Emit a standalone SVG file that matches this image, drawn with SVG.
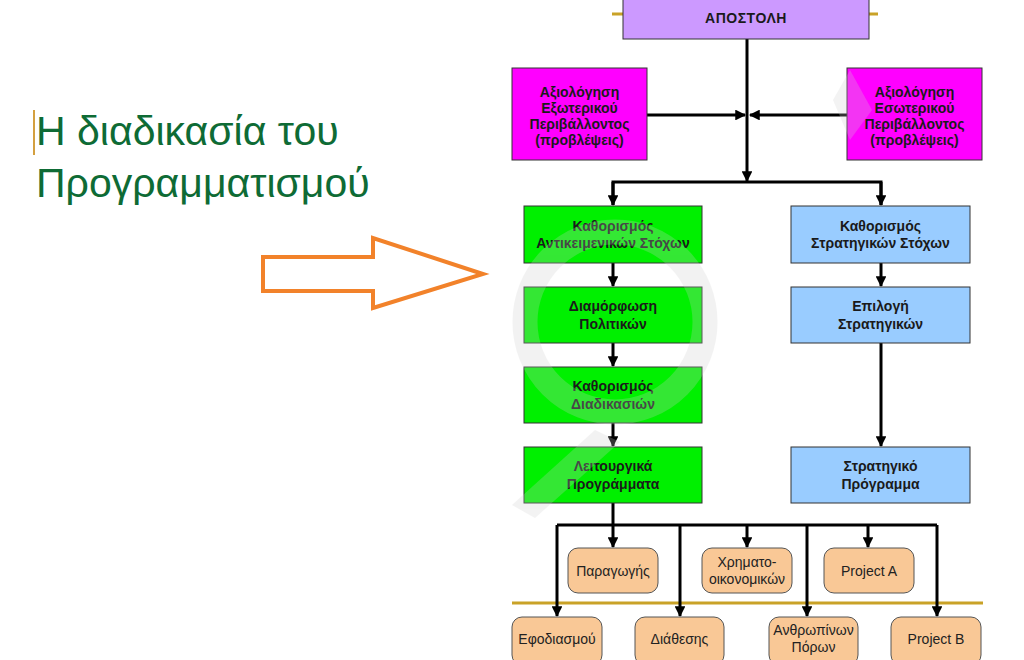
<svg xmlns="http://www.w3.org/2000/svg" width="1024" height="660" viewBox="0 0 1024 660">
<defs>
<marker id="ah" viewBox="0 0 10 10" refX="9" refY="5" markerWidth="4.2" markerHeight="3.6" orient="auto" markerUnits="strokeWidth">
<path d="M0,0 L10,5 L0,10 z" fill="#000"/>
</marker>
<style>
.box{stroke:#333;stroke-width:1}
.purple{fill:#CC99FF}
.mag{fill:#FF00FF}
.green{fill:#00F000}
.blue{fill:#99CCFF}
.peach{fill:#F9C896;stroke:#555;stroke-width:1}
.bt{font-family:"Liberation Sans",Arial,sans-serif;font-weight:bold;font-size:14px;fill:#1a1a1a;text-anchor:middle}
.rt{font-family:"Liberation Sans",Arial,sans-serif;font-size:14px;fill:#222;text-anchor:middle}
.conn{stroke:#000;stroke-width:3;fill:none}
.arr{stroke:#000;stroke-width:3;fill:none;marker-end:url(#ah)}
.gold{stroke:#C9A227;stroke-width:3}
.title{font-family:"Liberation Sans",Arial,sans-serif;font-size:41px;fill:#0E6B35}
</style>
</defs>
<rect width="1024" height="660" fill="#fff"/>

<g id="title">
<line x1="34" y1="110" x2="34" y2="155" stroke="#D4A040" stroke-width="2"/>
<text class="title" x="36" y="145">Η διαδικασία του</text>
<text class="title" x="36" y="197">Προγραμματισμού</text>
</g>

<g id="big-arrow">
<polygon points="263,257 373,257 373,238 483,274 373,308 373,291 263,291" fill="#fff" stroke="#F2822A" stroke-width="4" stroke-linejoin="miter"/>
</g>

<g id="gold-lines">
<line class="gold" x1="612" y1="14" x2="878" y2="14" stroke-width="2"/>
<line class="gold" x1="512" y1="603" x2="983" y2="603"/>
</g>

<g id="connectors">
<line class="arr" x1="747" y1="39" x2="747" y2="181"/>
<line class="arr" x1="647" y1="115" x2="745" y2="115"/>
<line class="arr" x1="847" y1="115" x2="750" y2="115"/>
<polyline class="conn" points="613,205 613,182 881,182 881,205"/>
<line class="arr" x1="613" y1="182" x2="613" y2="205"/>
<line class="arr" x1="881" y1="182" x2="881" y2="205"/>
<line class="arr" x1="613" y1="263" x2="613" y2="286"/>
<line class="arr" x1="613" y1="343" x2="613" y2="366"/>
<line class="arr" x1="613" y1="423" x2="613" y2="446"/>
<line class="arr" x1="881" y1="263" x2="881" y2="286"/>
<line class="arr" x1="881" y1="343" x2="881" y2="446"/>
<line class="conn" x1="613" y1="503" x2="613" y2="525"/>
<line class="conn" x1="557" y1="525" x2="937" y2="525"/>
<line class="arr" x1="613" y1="525" x2="613" y2="547"/>
<line class="arr" x1="747" y1="525" x2="747" y2="547"/>
<line class="arr" x1="868" y1="525" x2="868" y2="547"/>
<line class="arr" x1="557" y1="525" x2="557" y2="616"/>
<line class="arr" x1="680" y1="525" x2="680" y2="616"/>
<line class="arr" x1="807" y1="525" x2="807" y2="616"/>
<line class="arr" x1="937" y1="525" x2="937" y2="616"/>
</g>

<g id="apostoli">
<rect class="box purple" x="623" y="-1" width="246" height="40"/>
<text class="bt" x="746" y="23" letter-spacing="0.5">ΑΠΟΣΤΟΛΗ</text>
</g>

<g id="eksoteriko">
<rect class="box mag" x="512" y="68" width="135" height="92"/>
<text class="bt" x="579.5" y="97">Αξιολόγηση</text>
<text class="bt" x="579.5" y="113">Εξωτερικού</text>
<text class="bt" x="579.5" y="129">Περιβάλλοντος</text>
<text class="bt" x="579.5" y="145">(προβλέψεις)</text>
</g>

<g id="esoteriko">
<rect class="box mag" x="847" y="68" width="135" height="92"/>
<text class="bt" x="914.5" y="97">Αξιολόγηση</text>
<text class="bt" x="914.5" y="113">Εσωτερικού</text>
<text class="bt" x="914.5" y="129">Περιβάλλοντος</text>
<text class="bt" x="914.5" y="145">(προβλέψεις)</text>
</g>

<g id="antikeimenikoi">
<rect class="box green" x="524" y="206" width="178" height="57"/>
<text class="bt" x="613" y="231">Καθορισμός</text>
<text class="bt" x="613" y="248">Αντικειμενικών Στόχων</text>
</g>

<g id="politikes">
<rect class="box green" x="524" y="287" width="178" height="56"/>
<text class="bt" x="613" y="311">Διαμόρφωση</text>
<text class="bt" x="613" y="329">Πολιτικών</text>
</g>

<g id="diadikasies">
<rect class="box green" x="524" y="367" width="178" height="56"/>
<text class="bt" x="613" y="391">Καθορισμός</text>
<text class="bt" x="613" y="409">Διαδικασιών</text>
</g>

<g id="leitourgika">
<rect class="box green" x="524" y="447" width="178" height="56"/>
<text class="bt" x="613" y="471">Λειτουργικά</text>
<text class="bt" x="613" y="489">Προγράμματα</text>
</g>

<g id="stratigikoi">
<rect class="box blue" x="791" y="206" width="179" height="57"/>
<text class="bt" x="880.5" y="231">Καθορισμός</text>
<text class="bt" x="880.5" y="248">Στρατηγικών Στόχων</text>
</g>

<g id="epilogi">
<rect class="box blue" x="791" y="287" width="179" height="56"/>
<text class="bt" x="880.5" y="311">Επιλογή</text>
<text class="bt" x="880.5" y="329">Στρατηγικών</text>
</g>

<g id="stratigiko-programma">
<rect class="box blue" x="791" y="447" width="179" height="56"/>
<text class="bt" x="880.5" y="471">Στρατηγικό</text>
<text class="bt" x="880.5" y="489">Πρόγραμμα</text>
</g>

<g id="paragogis">
<rect class="peach" x="568" y="548" width="90" height="45" rx="10"/>
<text class="rt" x="613" y="576">Παραγωγής</text>
</g>
<g id="xrimatooik">
<rect class="peach" x="702" y="548" width="90" height="45" rx="10"/>
<text class="rt" x="747" y="567">Χρηματο-</text>
<text class="rt" x="747" y="584">οικονομικών</text>
</g>
<g id="projectA">
<rect class="peach" x="824" y="548" width="90" height="45" rx="10"/>
<text class="rt" x="869" y="576">Project A</text>
</g>
<g id="efodiasmou">
<rect class="peach" x="512" y="617" width="90" height="48" rx="10"/>
<text class="rt" x="557" y="644">Εφοδιασμού</text>
</g>
<g id="diathesis">
<rect class="peach" x="635" y="617" width="89" height="48" rx="10"/>
<text class="rt" x="679.5" y="644">Διάθεσης</text>
</g>
<g id="anthropinon">
<rect class="peach" x="769" y="617" width="89" height="48" rx="10"/>
<text class="rt" x="813.5" y="635">Ανθρωπίνων</text>
<text class="rt" x="813.5" y="652">Πόρων</text>
</g>
<g id="projectB">
<rect class="peach" x="891" y="617" width="90" height="48" rx="10"/>
<text class="rt" x="936" y="644">Project B</text>
</g>

<g id="watermark" opacity="0.25" fill="none" stroke="#cfcfcf">
<circle cx="615" cy="322" r="90" stroke-width="25"/>
<polygon points="512,505 595,430 620,442 535,518" fill="#cfcfcf" stroke="none"/>
<polygon points="833,100 850,70 872,110 850,140" fill="#cfcfcf" stroke="none"/>
</g>
</svg>
